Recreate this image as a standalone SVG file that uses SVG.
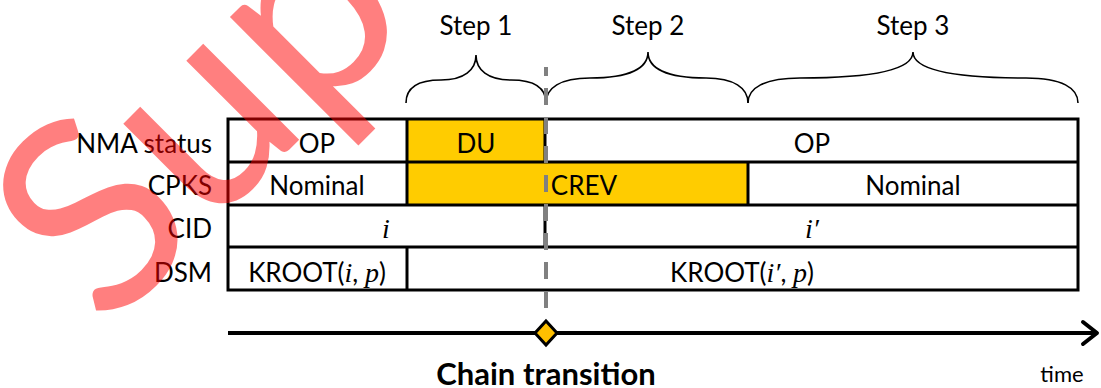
<svg xmlns="http://www.w3.org/2000/svg" width="1101" height="388" viewBox="0 0 1101 388">
<style>
.t{font-family:Lato,"Open Sans","Liberation Sans",sans-serif;font-size:26px;fill:#000}
.m{font-family:"Liberation Serif","DejaVu Serif",serif;font-style:italic;font-size:28px}
.y{fill:#FFCC00}
.div{stroke:#000;stroke-width:3}
.brace{fill:none;stroke:#000;stroke-width:1.6}
</style>
<rect width="1101" height="388" fill="#fff"/>
<g id="braces">
<path class="brace" d="M406,103 C406,88 418,80 441,80 C464,80 476,70 476,55 C476,70 488,80 511,80 C534,80 546,88 546,103"/>
<path class="brace" d="M546,103 C546,88 560,78 590,78 C630,78 648,68 648,52 C648,68 666,78 706,78 C734,78 748,88 748,103"/>
<path class="brace" d="M748,103 C748,88 764,78 800,78 C880,78 913,68 913,52 C913,68 946,78 1026,78 C1062,78 1078,88 1078,103"/>
</g>
<g id="steps">
<text class="t" x="476" y="35" text-anchor="middle">Step 1</text>
<text class="t" x="648" y="35" text-anchor="middle">Step 2</text>
<text class="t" x="913" y="35" text-anchor="middle">Step 3</text>
</g>
<g id="labels">
<text class="t" x="212" y="153" text-anchor="end">NMA status</text>
<text class="t" x="212" y="195" text-anchor="end">CPKS</text>
<text class="t" x="212" y="238" text-anchor="end">CID</text>
<text class="t" x="212" y="282" text-anchor="end">DSM</text>
</g>
<g id="table">
<rect x="228" y="119" width="850" height="171" fill="#fff"/>
<rect class="y" x="407" y="119" width="138" height="43"/>
<rect class="y" x="407" y="162" width="341" height="43"/>
<rect x="228" y="119" width="850" height="171" fill="none" stroke="#000" stroke-width="3"/>
<line class="div" x1="228" y1="162" x2="1078" y2="162"/>
<line class="div" x1="228" y1="205" x2="1078" y2="205"/>
<line class="div" x1="228" y1="247" x2="1078" y2="247"/>
<line class="div" x1="407" y1="119" x2="407" y2="205"/>
<line class="div" x1="545" y1="119" x2="545" y2="162"/>
<line class="div" x1="748" y1="162" x2="748" y2="205"/>
<line class="div" x1="545" y1="205" x2="545" y2="247"/>
<line class="div" x1="407" y1="247" x2="407" y2="290"/>
</g>
<g id="cells">
<text class="t" x="317" y="153" text-anchor="middle">OP</text>
<text class="t" x="476" y="153" text-anchor="middle">DU</text>
<text class="t" x="812" y="153" text-anchor="middle">OP</text>
<text class="t" x="317" y="195" text-anchor="middle">Nominal</text>
<text class="t" x="584" y="195" text-anchor="middle">CREV</text>
<text class="t" x="913" y="195" text-anchor="middle">Nominal</text>
<text class="m" x="386" y="238" text-anchor="middle">i</text>
<text class="m" x="812" y="238" text-anchor="middle">i′</text>
<text class="t" x="317" y="282" text-anchor="middle">KROOT(<tspan class="m">i</tspan>, <tspan class="m">p</tspan>)</text>
<text class="t" x="742" y="282" text-anchor="middle">KROOT(<tspan class="m">i′</tspan>, <tspan class="m">p</tspan>)</text>
</g>
<g id="connectors">
<line x1="546" y1="67" x2="546" y2="308" stroke="#808080" stroke-width="4" stroke-dasharray="17 12" stroke-dashoffset="8"/>
<line x1="228" y1="333" x2="1096" y2="333" stroke="#000" stroke-width="4"/>
<polyline points="1083,322 1097,333 1083,344" fill="none" stroke="#000" stroke-width="4" stroke-linecap="round" stroke-linejoin="round"/>
</g>
<g id="transition">
<polygon points="546,321 557,333 546,345 535,333" fill="#FFC000" stroke="#000" stroke-width="3" stroke-linejoin="miter"/>
<text x="546" y="385" text-anchor="middle" style="font-family:Lato,'Open Sans',sans-serif;font-weight:bold;font-size:31px">Chain transition</text>
</g>
<text x="1062" y="382" text-anchor="middle" style="font-family:Lato,'Open Sans',sans-serif;font-size:22px">time</text>
<text x="106" y="333" transform="rotate(-45 106 333)" font-family="Lato,'Open Sans',sans-serif" font-size="268" fill="#FF0000" fill-opacity="0.5">Superseded</text>
</svg>
